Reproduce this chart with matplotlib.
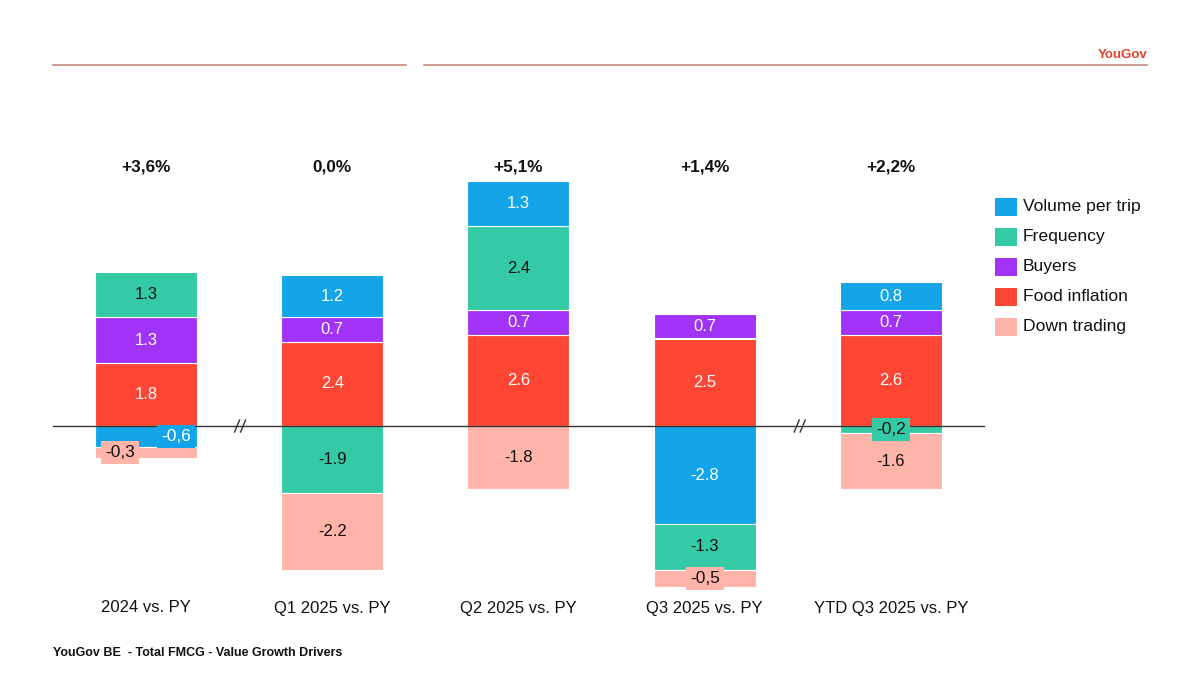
import matplotlib
matplotlib.use("Agg")
import matplotlib.pyplot as plt
from matplotlib.lines import Line2D
from matplotlib.patches import Rectangle

plt.rcParams['font.family'] = ['Liberation Sans', 'DejaVu Sans']

categories = ["2024 vs. PY", "Q1 2025 vs. PY", "Q2 2025 vs. PY", "Q3 2025 vs. PY", "YTD Q3 2025 vs. PY"]
totals = ["+3,6%", "0,0%", "+5,1%", "+1,4%", "+2,2%"]
series_names = ["Volume per trip", "Frequency", "Buyers", "Food inflation", "Down trading"]
volume_per_trip = [-0.6, 1.2, 1.3, -2.8, 0.8]
frequency = [1.3, -1.9, 2.4, -1.3, -0.2]
buyers = [1.3, 0.7, 0.7, 0.7, 0.7]
food_inflation = [1.8, 2.4, 2.6, 2.5, 2.6]
down_trading = [-0.3, -2.2, -1.8, -0.5, -1.6]

colors = {
    "Volume per trip": "#14a5e8",
    "Frequency": "#35caa6",
    "Buyers": "#a033f5",
    "Food inflation": "#ff4533",
    "Down trading": "#ffb4aa",
}
text_colors = {
    "Volume per trip": "white",
    "Frequency": "#111111",
    "Buyers": "white",
    "Food inflation": "white",
    "Down trading": "#111111",
}
values = {
    "Volume per trip": volume_per_trip,
    "Frequency": frequency,
    "Buyers": buyers,
    "Food inflation": food_inflation,
    "Down trading": down_trading,
}
pos_order = ["Food inflation", "Buyers", "Frequency", "Volume per trip"]
neg_order = ["Volume per trip", "Frequency", "Buyers", "Food inflation", "Down trading"]

fig = plt.figure(figsize=(12, 6.75), dpi=100)
ax = fig.add_axes([0, 0, 1, 1])
PX = 186.25   # pixels per category
PY = 35.0     # pixels per unit
ax.set_xlim(-146 / PX, (1200 - 146) / PX)
ax.set_ylim(-(675 - 426) / PY, 426 / PY)
ax.axis('off')

width = 102 / PX
# special offsets for small labels (in pixels)
small_offsets = {(0, "Volume per trip"): (30, 0), (0, "Down trading"): (-26, 0)}

for i in range(len(categories)):
    pos_base = 0.0
    neg_base = 0.0
    segs = []
    for name in pos_order:
        v = values[name][i]
        if v > 0:
            segs.append((name, pos_base, v))
            pos_base += v
    for name in neg_order:
        v = values[name][i]
        if v < 0:
            segs.append((name, neg_base, v))
            neg_base += v
    for name, base, v in segs:
        ax.bar(i, v, bottom=base, width=width, color=colors[name], edgecolor='white',
               linewidth=0.8, zorder=2)
    for name, base, v in segs:
        cy = base + v / 2
        cx = i
        if abs(v) < 0.65:
            dx, dy = small_offsets.get((i, name), (0, 0))
            cx += dx / PX
            cy += dy / PY
            ax.text(cx, cy, f"{v:.1f}".replace('.', ','), ha='center', va='center',
                    fontsize=12.5, color=text_colors[name], zorder=5,
                    bbox=dict(boxstyle='square,pad=0.22', facecolor=colors[name], edgecolor='none'))
        else:
            ax.text(cx, cy, f"{v:.1f}", ha='center', va='center', fontsize=12,
                    color=text_colors[name], zorder=5)
    ax.text(i, (426 - 167) / PY, totals[i], ha='center', va='center', fontsize=12.3,
            fontweight='bold', color='#111111')
    ax.text(i, -(608 - 426) / PY, categories[i], ha='center', va='center', fontsize=12,
            color='#111111')

# zero line
ax.plot([-0.5, 4.5], [0, 0], color='#333333', linewidth=1.0, zorder=3)

# axis break marks
for bx in [0.505, 3.51]:
    for off in (-3, 3):
        ax.plot([bx + (off - 2.5) / PX, bx + (off + 2.5) / PX], [-6 / PY, 6 / PY],
                color='#333333', linewidth=1.0, zorder=4)

# header lines
fig.add_artist(Line2D([53 / 1200, 406 / 1200], [1 - 65 / 675] * 2, color='#c98a7e', linewidth=1.2))
fig.add_artist(Line2D([424 / 1200, 1147 / 1200], [1 - 65 / 675] * 2, color='#c98a7e', linewidth=1.2))
fig.text(1147 / 1200, 1 - 55 / 675, "YouGov", ha='right', va='center', fontsize=9.5,
         color='#e0422c', fontweight='bold')

# legend
for k, name in enumerate(series_names):
    yc = 207 + 30 * k
    fig.add_artist(Rectangle((995 / 1200, 1 - (yc + 9) / 675), 22 / 1200, 18 / 675,
                             transform=fig.transFigure, facecolor=colors[name], edgecolor='none'))
    fig.text(1023 / 1200, 1 - yc / 675, name, ha='left', va='center', fontsize=12.6,
             color='#111111')

# footer
fig.text(53 / 1200, 1 - 653 / 675, "YouGov BE  - Total FMCG - Value Growth Drivers", ha='left',
         va='center', fontsize=9, fontweight='bold', color='#111111')

fig.savefig("out.png", dpi=100)
